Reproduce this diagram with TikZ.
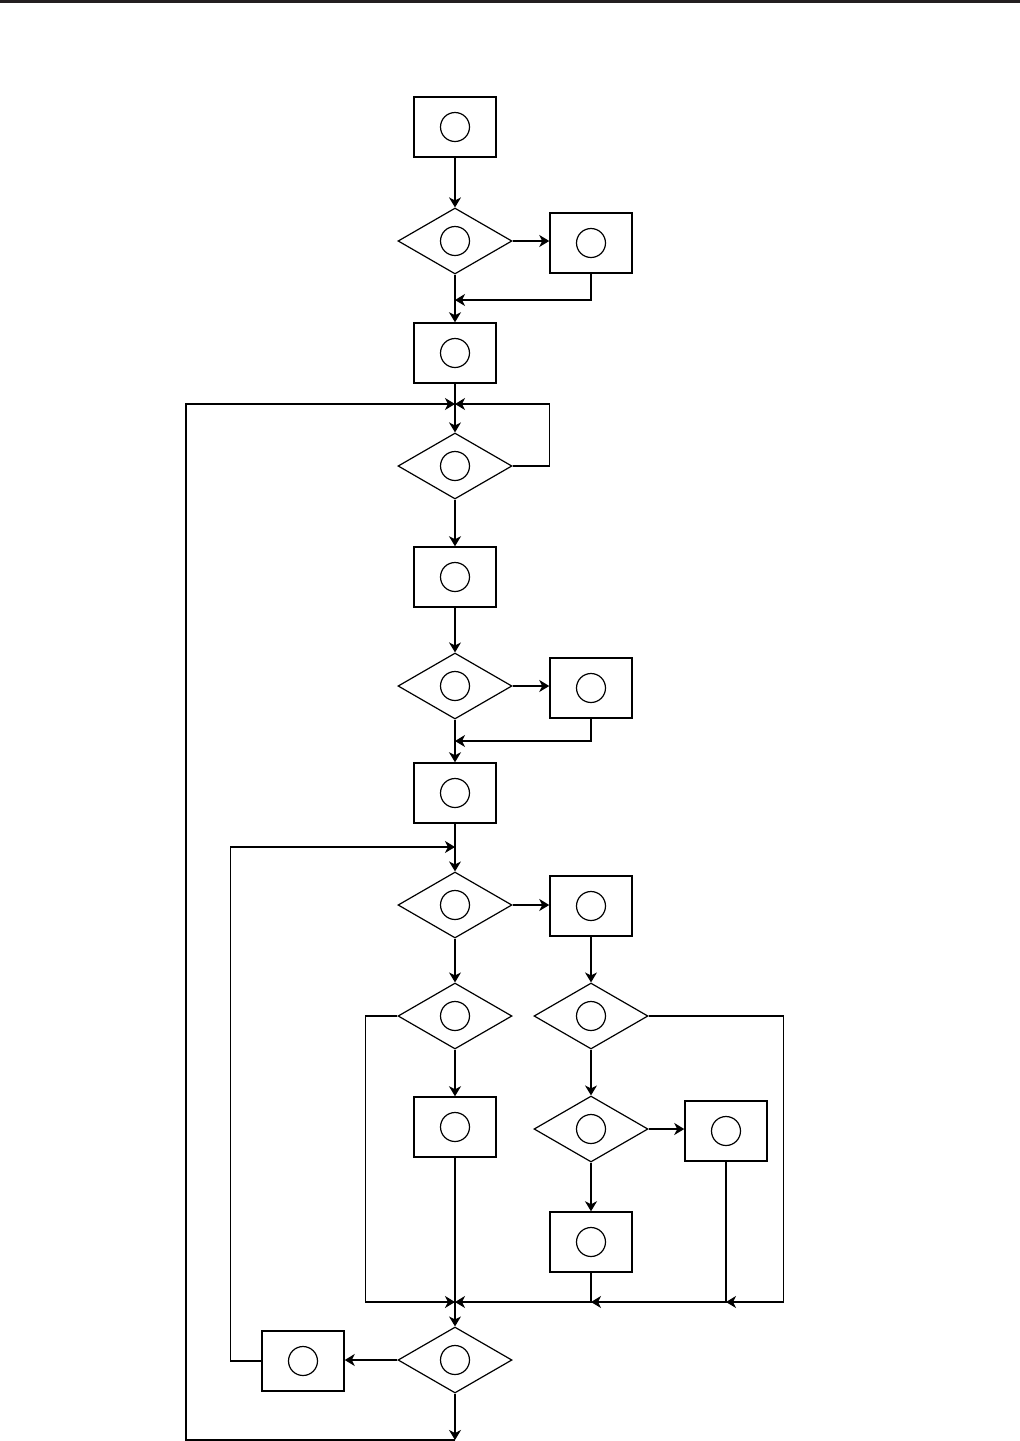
\documentclass[tikz,border=0pt]{standalone}
\usetikzlibrary{shapes.geometric,arrows.meta,calc}
\definecolor{rulegray}{HTML}{231F20}
\tikzset{
	mark circle/.style={label={[draw,circle,minimum size=14.5pt,inner sep=0pt,line width=0.6pt]center:{}}},
	procbox/.style={draw,rectangle,minimum width=41pt,minimum height=30pt,inner sep=0pt,line width=0.75pt,mark circle},
	decbox/.style={draw,diamond,aspect=1.73,minimum width=57pt,minimum height=33pt,inner sep=0pt,line width=0.6pt,mark circle},
	flow/.style={-{Stealth[length=5pt,width=6pt,inset=1.5pt]},line width=0.6pt},
	wire/.style={line width=0.6pt}
}
\begin{document}
\begin{tikzpicture}[x=0.5pt,y=-0.5pt]
	\useasboundingbox (0,0) rectangle (1020,1441);
	\draw[line width=1.5pt, rulegray] (0,1.5) -- (1020,1.5);
	\node[procbox] (box1) at (455,127) {};
	\node[decbox] (dec1) at (455,241) {};
	\node[procbox] (side1) at (591,243) {};
	\node[procbox] (box2) at (455,353) {};
	\node[decbox] (dec2) at (455,466) {};
	\node[procbox] (box3) at (455,577) {};
	\node[decbox] (dec3) at (455,686) {};
	\node[procbox] (side2) at (591,688) {};
	\node[procbox] (box4) at (455,793) {};
	\node[decbox] (dec4) at (455,905) {};
	\node[procbox] (side3) at (591,906) {};
	\node[decbox] (dec5) at (455,1016) {};
	\node[decbox] (dec6) at (591,1016) {};
	\node[procbox] (box5) at (455,1127) {};
	\node[decbox] (dec7) at (591,1129) {};
	\node[procbox] (side4) at (726,1131) {};
	\node[procbox] (box6) at (591,1242) {};
	\node[decbox] (dec8) at (455,1360) {};
	\node[procbox] (back1) at (303,1361) {};
	\coordinate (join1) at (455,300);
	\coordinate (join2) at (455,404);
	\coordinate (join3) at (455,741);
	\coordinate (join4) at (455,847);
	\coordinate (join5) at (455,1302);
	\coordinate (join6) at (591,1302);
	\coordinate (join7) at (726,1302);
	\coordinate (exit) at (455,1440);
	\draw[flow] (box1) -- (dec1);
	\draw[flow] (dec1.east) -- (dec1.east -| side1.west);
	\draw[flow] (dec1) -- (box2);
	\draw[flow] (side1.south) |- (join1);
	\draw[flow] (box2) -- (dec2);
	\draw[flow] (dec2.east) -- ($(dec2.east)+(37,0)$) |- (join2);
	\draw[flow] (dec2) -- (box3);
	\draw[flow] (box3) -- (dec3);
	\draw[flow] (dec3.east) -- (dec3.east -| side2.west);
	\draw[flow] (side2.south) |- (join3);
	\draw[flow] (dec3) -- (box4);
	\draw[flow] (box4) -- (dec4);
	\draw[flow] (dec4.east) -- (dec4.east -| side3.west);
	\draw[flow] (dec4) -- (dec5);
	\draw[flow] (side3) -- (dec6);
	\draw[flow] (dec5) -- (box5);
	\draw[flow] (dec6) -- (dec7);
	\draw[flow] (dec7.east) -- (dec7.east -| side4.west);
	\draw[flow] (dec7) -- (box6);
	\draw[flow] (box5) -- (dec8);
	\draw[flow] (dec5.west) -- ($(dec5.west)+(-32,0)$) |- (join5);
	\draw[flow] (box6.south) |- (join5);
	\draw[flow] (side4.south) |- (join6);
	\draw[flow] (dec6.east) -- ($(dec6.east)+(135,0)$) |- (join7);
	\draw[flow] (dec8.west) -- (dec8.west -| back1.east);
	\draw[flow] (back1.west) -- ($(back1.west)+(-31,0)$) |- (join4);
	\draw[flow] (dec8) -- (exit);
	\draw[flow] (exit) -- ($(exit)+(-269,0)$) |- (join2);
\end{tikzpicture}
\end{document}
